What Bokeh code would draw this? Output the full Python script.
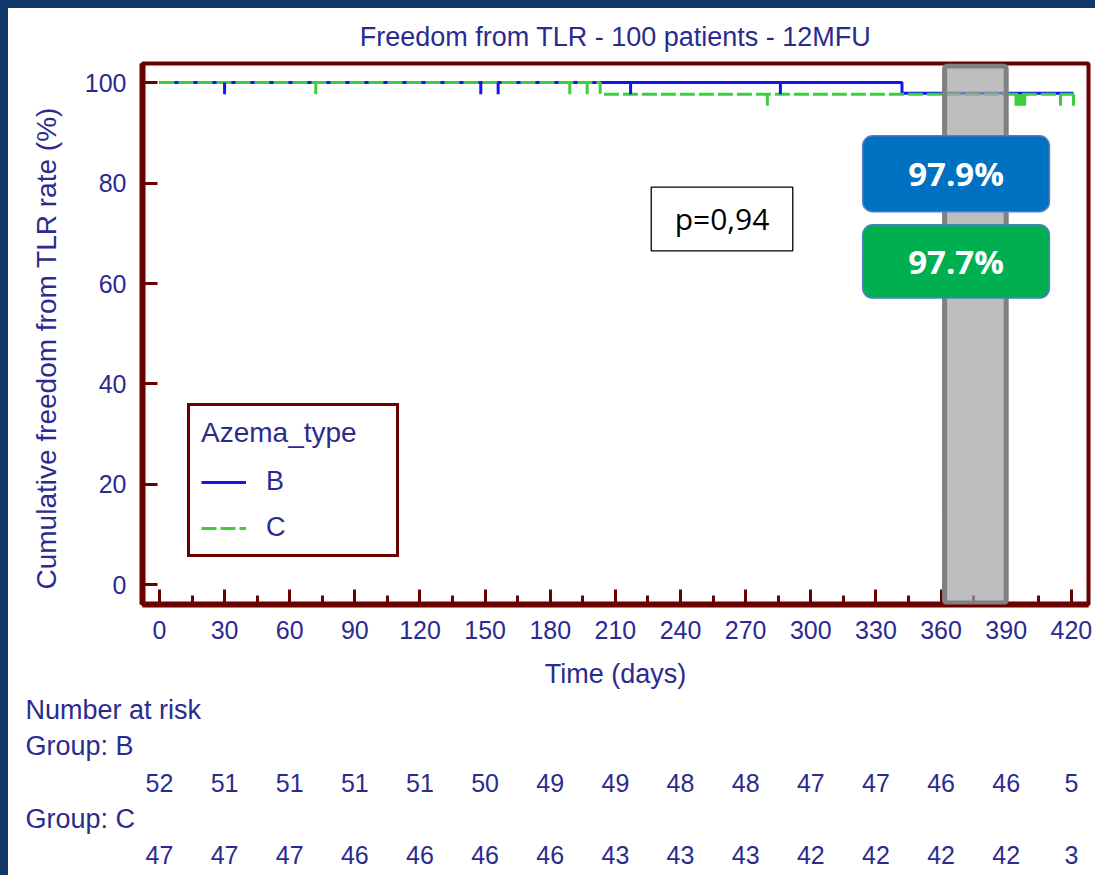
import numpy as np
from bokeh.plotting import figure
from bokeh.layouts import column
from bokeh.models import (FixedTicker, Legend, LegendItem, BoxAnnotation, Label, Range1d,
                          ColumnDataSource, Title)
from bokeh.core.properties import value
from bokeh.embed import file_html
from bokeh.resources import INLINE

# ---------------- data ----------------
x_ticks = list(range(0, 421, 30))
x_minor = list(range(15, 421, 30))
y_ticks = [0, 20, 40, 60, 80, 100]

b_times = [0, 342, 421]
b_surv = [100, 97.9, 97.9]
c_times = [0, 203, 421]
c_surv = [100, 97.7, 97.7]
b_censor = [30, 148, 156, 217, 286]
c_censor = [72, 189, 197, 280, 394.5, 395.5, 396.5, 397.5, 398.5, 415, 421]

risk_times = x_ticks
risk_b = [52, 51, 51, 51, 51, 50, 49, 49, 48, 48, 47, 47, 46, 46, 5]
risk_c = [47, 47, 47, 46, 46, 46, 46, 43, 43, 43, 42, 42, 42, 42, 3]
risk_title = "Number at risk"
group_labels = ["Group: B", "Group: C"]

final_b = "97.9%"
final_c = "97.7%"
p_text = "p=0,94"
highlight_days = (361.6, 390.0)

title_text = "Freedom from TLR - 100 patients - 12MFU"
x_label = "Time (days)"
y_label = "Cumulative freedom from TLR rate (%)"
legend_title = "Azema_type"
legend_labels = ["B", "C"]

# ---------------- style ----------------
NAVY = "#2B2B8F"
DARKRED = "#6B0000"
BLUE = "#1414F0"
GREEN = "#3CCF3C"
SLIDE = "#12386A"
FONT = "Liberation Sans"

W = 1087
PH = 684
BL, BR, BT = 134, 7, 55
FRAME_BOTTOM = 596
X0, X1 = -7.8, 427.9

p = figure(width=W, height=PH, x_range=Range1d(X0, X1), y_range=Range1d(-3.9, 103.8),
           output_backend="svg", toolbar_location=None,
           min_border_left=BL, min_border_right=BR, min_border_top=BT,
           min_border_bottom=PH - FRAME_BOTTOM, margin=(8, 0, 0, 8))
p.frame_align = False
p.xgrid.visible = False
p.ygrid.visible = False
p.outline_line_color = DARKRED
p.outline_line_width = 4
p.background_fill_color = "white"
p.border_fill_color = "white"

p.title.text = title_text
p.title.align = "center"
p.title.text_font = FONT
p.title.text_font_size = "27px"
p.title.text_font_style = "normal"
p.title.text_color = NAVY
p.title.standoff = 23

for ax in (p.xaxis[0], p.yaxis[0]):
    ax.axis_line_color = DARKRED
    ax.axis_line_width = 6
    ax.major_tick_line_color = DARKRED
    ax.major_tick_line_width = 3
    ax.minor_tick_line_color = DARKRED
    ax.minor_tick_line_width = 3
    ax.major_tick_in = 15
    ax.major_tick_out = 0
    ax.minor_tick_out = 0
    ax.major_label_text_font = FONT
    ax.major_label_text_font_size = "25px"
    ax.major_label_text_color = NAVY
    ax.axis_label_text_font = FONT
    ax.axis_label_text_font_size = "27px"
    ax.axis_label_text_font_style = "normal"
    ax.axis_label_text_color = NAVY

p.xaxis.ticker = FixedTicker(ticks=x_ticks, minor_ticks=x_minor)
p.xaxis.minor_tick_in = 9
p.xaxis.major_label_standoff = 16
p.xaxis.axis_label = x_label
p.xaxis.axis_label_standoff = 17

p.yaxis.ticker = FixedTicker(ticks=y_ticks, minor_ticks=[])
p.yaxis.minor_tick_in = 0
p.yaxis.major_label_standoff = 16

# y axis label as a side title (allows shifting along the axis)
p.add_layout(Title(text=y_label, align="left", offset=15, standoff=40,
                   text_font=FONT, text_font_size="28px", text_font_style="normal",
                   text_color=NAVY), "left")

# ---------------- curves ----------------
rb = p.step(b_times, b_surv, mode="after", line_color=BLUE, line_width=3)
rc = p.step(c_times, c_surv, mode="after", line_color=GREEN, line_width=3, line_dash="15 4")

def surv_at(times, surv, t):
    idx = np.searchsorted(np.array(times), np.array(t), side="right") - 1
    return np.array(surv)[idx]

TICK = 2.3
sb = surv_at(b_times, b_surv, b_censor)
p.segment(x0=b_censor, y0=sb, x1=b_censor, y1=sb - TICK, line_color=BLUE, line_width=3)
sc = surv_at(c_times, c_surv, c_censor)
p.segment(x0=c_censor, y0=sc, x1=c_censor, y1=sc - TICK, line_color=GREEN, line_width=3)

# ---------------- highlight column ----------------
p.add_layout(BoxAnnotation(left=highlight_days[0], right=highlight_days[1], top=103.3, bottom=-3.6,
                           fill_color="#A2A2A2", fill_alpha=0.7, line_color="#808080",
                           line_alpha=1, line_width=5, border_radius=3))

# ---------------- value boxes ----------------
p.add_layout(BoxAnnotation(left=323.9, right=409.9, top=89.4, bottom=74.3,
                           fill_color="#0070C0", fill_alpha=1, line_color="#4F7FBF", line_alpha=1,
                           line_width=1.5, border_radius=10))
p.add_layout(BoxAnnotation(left=323.9, right=409.9, top=71.7, bottom=57.1,
                           fill_color="#00B050", fill_alpha=1, line_color="#4F7FBF", line_alpha=1,
                           line_width=1.5, border_radius=10))
p.add_layout(Label(x=366.9, y=81.85, text=final_b, text_align="center", text_baseline="middle",
                   text_color="white", text_font="Open Sans", text_font_style="bold",
                   text_font_size="33px"))
p.add_layout(Label(x=366.9, y=64.4, text=final_c, text_align="center", text_baseline="middle",
                   text_color="white", text_font="Open Sans", text_font_style="bold",
                   text_font_size="33px"))

p.add_layout(BoxAnnotation(left=226.5, right=291.7, top=79.2, bottom=66.5,
                           fill_color="white", fill_alpha=1, line_color="black", line_alpha=1,
                           line_width=1.3))
p.add_layout(Label(x=259.1, y=72.9, text=p_text, text_align="center", text_baseline="middle",
                   text_color="black", text_font="Open Sans", text_font_size="30px"))

# ---------------- legend ----------------
legend = Legend(items=[LegendItem(label=legend_labels[0], renderers=[rb]),
                       LegendItem(label=legend_labels[1], renderers=[rc])],
                location=(45, 47), title=legend_title,
                title_text_font=FONT, title_text_font_size="28px", title_text_color=NAVY,
                title_text_font_style="normal", title_standoff=17,
                label_text_font=FONT, label_text_font_size="27px", label_text_color=NAVY,
                border_line_color=DARKRED, border_line_width=3, border_line_alpha=1,
                background_fill_color="white", background_fill_alpha=1,
                padding=11, spacing=15, glyph_width=45, glyph_height=24, label_height=24,
                label_standoff=20, label_width=119, margin=0)
p.add_layout(legend, "center")

# ---------------- number at risk table (own panel sharing the day scale) ----------------
TH = 183
scale = (W - BL - BR) / (X1 - X0)
t = figure(width=W, height=TH, x_range=Range1d(X0 - BL / scale, X1 + BR / scale),
           y_range=Range1d(TH, 0), output_backend="svg", toolbar_location=None,
           x_axis_location=None, y_axis_location=None, min_border=0, margin=(0, 0, 0, 8))
t.frame_align = False
t.grid.visible = False
t.outline_line_color = None
t.background_fill_color = "white"
t.border_fill_color = "white"

ROW_Y = [17, 53, 90, 126, 162]  # vertical layout of the table rows (px from panel top)
left_x = X0 + (25 - 8 - BL) / scale
hdr = ColumnDataSource(dict(x=[left_x] * 3, y=[ROW_Y[0], ROW_Y[1], ROW_Y[3]],
                            text=[risk_title] + group_labels))
t.text(x="x", y="y", text="text", source=hdr, text_align="left", text_baseline="middle",
       text_color=NAVY, text_font=value(FONT), text_font_size="27px")
nums = ColumnDataSource(dict(x=risk_times + risk_times,
                             y=[ROW_Y[2]] * len(risk_b) + [ROW_Y[4]] * len(risk_c),
                             text=[str(v) for v in risk_b] + [str(v) for v in risk_c]))
t.text(x="x", y="y", text="text", source=nums, text_align="center", text_baseline="middle",
       text_color=NAVY, text_font=value(FONT), text_font_size="25px")

bg = (f"linear-gradient(to right, {SLIDE} 8px, transparent 8px), "
      f"linear-gradient(to bottom, {SLIDE} 8px, #ffffff 8px)")
layout = column(p, t, spacing=0, styles={"background": bg})
open("out.html", "w").write(file_html(layout, INLINE))
